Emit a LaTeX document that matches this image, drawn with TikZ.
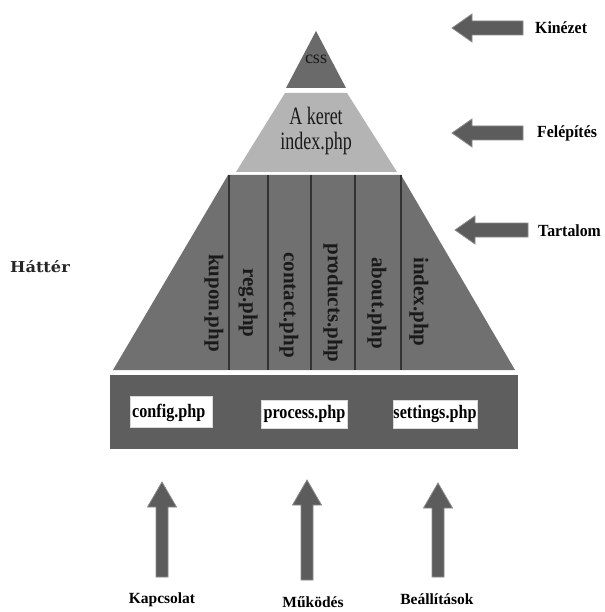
\documentclass[tikz,border=0pt]{standalone}
\usepackage{fontspec}
\usepackage{graphicx}
\setmainfont{Liberation Serif}
\newfontfamily\hfont{DejaVu Serif}
\definecolor{cssgray}{HTML}{6A6A6A}
\definecolor{keretgray}{HTML}{B4B4B4}
\definecolor{midgray}{HTML}{707070}
\definecolor{boxgray}{HTML}{5E5E5E}
\definecolor{arrgray}{HTML}{5C5C5C}
\definecolor{arredge}{HTML}{8C8C8C}
\definecolor{linegray}{HTML}{333333}
\definecolor{txtgray}{HTML}{1A1A1A}
\newcommand{\cond}[2]{\scalebox{#1}[1]{#2}}
\tikzset{
  vlabel/.style={rotate=-90, font=\fontsize{21}{24}\selectfont\bfseries, text=txtgray, inner sep=0pt},
  blabel/.style={font=\fontsize{19}{22}\selectfont\bfseries, text=black, inner sep=0pt, anchor=base},
  wbox/.style={fill=white, draw=white!85!black, line width=0.4pt, inner sep=0pt},
  sidelabel/.style={font=\fontsize{17}{19}\selectfont\bfseries, text=black, inner sep=0pt},
  botlabel/.style={font=\fontsize{15.5}{18}\selectfont\bfseries, text=black, inner sep=0pt},
  toplabel/.style={font=\fontsize{25}{28}\selectfont, text=txtgray, inner sep=0pt, anchor=base},
  blockarr/.style={fill=arrgray, draw=arredge, line width=0.8pt, line join=miter},
  sepline/.style={draw=linegray, line width=1.1pt},
}
\begin{document}
\begin{tikzpicture}[x=1pt,y=-1pt]
\useasboundingbox[fill=white] (0,0) rectangle (604,612);

% --- pyramid levels ---
\fill[cssgray] (316,31) -- (346,88) -- (286,88) -- cycle;
\node[font=\fontsize{18}{20}\selectfont, text=txtgray, inner sep=0pt, anchor=base] (css) at (316,64) {css};

\fill[keretgray] (285,93) -- (347,93) -- (397,172) -- (236,172) -- cycle;
\node[toplabel] (keret) at (316,125) {\cond{0.72}{A keret}};
\node[toplabel] (keretidx) at (316,150) {\cond{0.72}{index.php}};

\fill[midgray] (228,175) -- (401,175) -- (515,370) -- (113,370) -- cycle;
\foreach \x in {229,268,311,355,401}{
  \draw[sepline] (\x,175) -- (\x,370);
}
\node[vlabel] (kupon) at (214,303) {kupon.php};
\node[vlabel] (reg) at (248,303) {reg.php};
\node[vlabel] (contact) at (289,305) {contact.php};
\node[vlabel] (products) at (333,303) {products.php};
\node[vlabel] (about) at (377,303) {about.php};
\node[vlabel] (indexp) at (419,302) {index.php};

% --- bottom box ---
\fill[boxgray] (110,375) rectangle (518,449);
\node[wbox, minimum width=82, minimum height=31] (configbox) at (171,412) {};
\node[blabel, anchor=base west] (config) at (132,417) {\cond{0.85}{config.php}};
\node[wbox, minimum width=86, minimum height=28] (processbox) at (304.5,414) {};
\node[blabel] (process) at (304.5,418) {\cond{0.85}{process.php}};
\node[wbox, minimum width=84, minimum height=28] (settingsbox) at (435,414) {};
\node[blabel] (settings) at (435,418) {\cond{0.85}{settings.php}};

% --- right side labels and arrows ---
\node[sidelabel, anchor=west] (kinezet) at (535,28) {\cond{0.93}{Kinézet}};
\node[sidelabel, anchor=west] (felepites) at (537,133) {\cond{0.93}{Felépítés}};
\node[sidelabel, anchor=west] (tartalom) at (538,231) {\cond{0.93}{Tartalom}};

\coordinate (tipK) at (452,28);
\coordinate (tipF) at (452,133);
\coordinate (tipT) at (455,230);
\foreach \tx/\ty/\ex in {452/28/523, 452/133/523, 455/230/528}{
  \draw[blockarr] (\tx,\ty) -- (\tx+20,\ty-14) -- (\tx+20,\ty-7) -- (\ex,\ty-7)
     -- (\ex,\ty+7) -- (\tx+20,\ty+7) -- (\tx+20,\ty+14) -- cycle;
}

% --- left label ---
\node[font=\hfont\bfseries\fontsize{15}{18}\selectfont, text=black!85, anchor=west, inner sep=0pt] (hatter) at (10,267) {\cond{1.08}{Háttér}};

% --- bottom arrows and labels ---
\foreach \cx/\ty/\by in {162/482/577, 307/480/580, 438/483/577}{
  \draw[blockarr] (\cx,\ty) -- (\cx+14.5,\ty+25) -- (\cx+6,\ty+25) -- (\cx+6,\by)
     -- (\cx-6,\by) -- (\cx-6,\ty+25) -- (\cx-14.5,\ty+25) -- cycle;
}
\node[botlabel] (kapcsolat) at (162,600) {Kapcsolat};
\node[botlabel] (mukodes) at (313,602) {Működés};
\node[botlabel] (beallitasok) at (437,599) {Beállítások};
\end{tikzpicture}
\end{document}
